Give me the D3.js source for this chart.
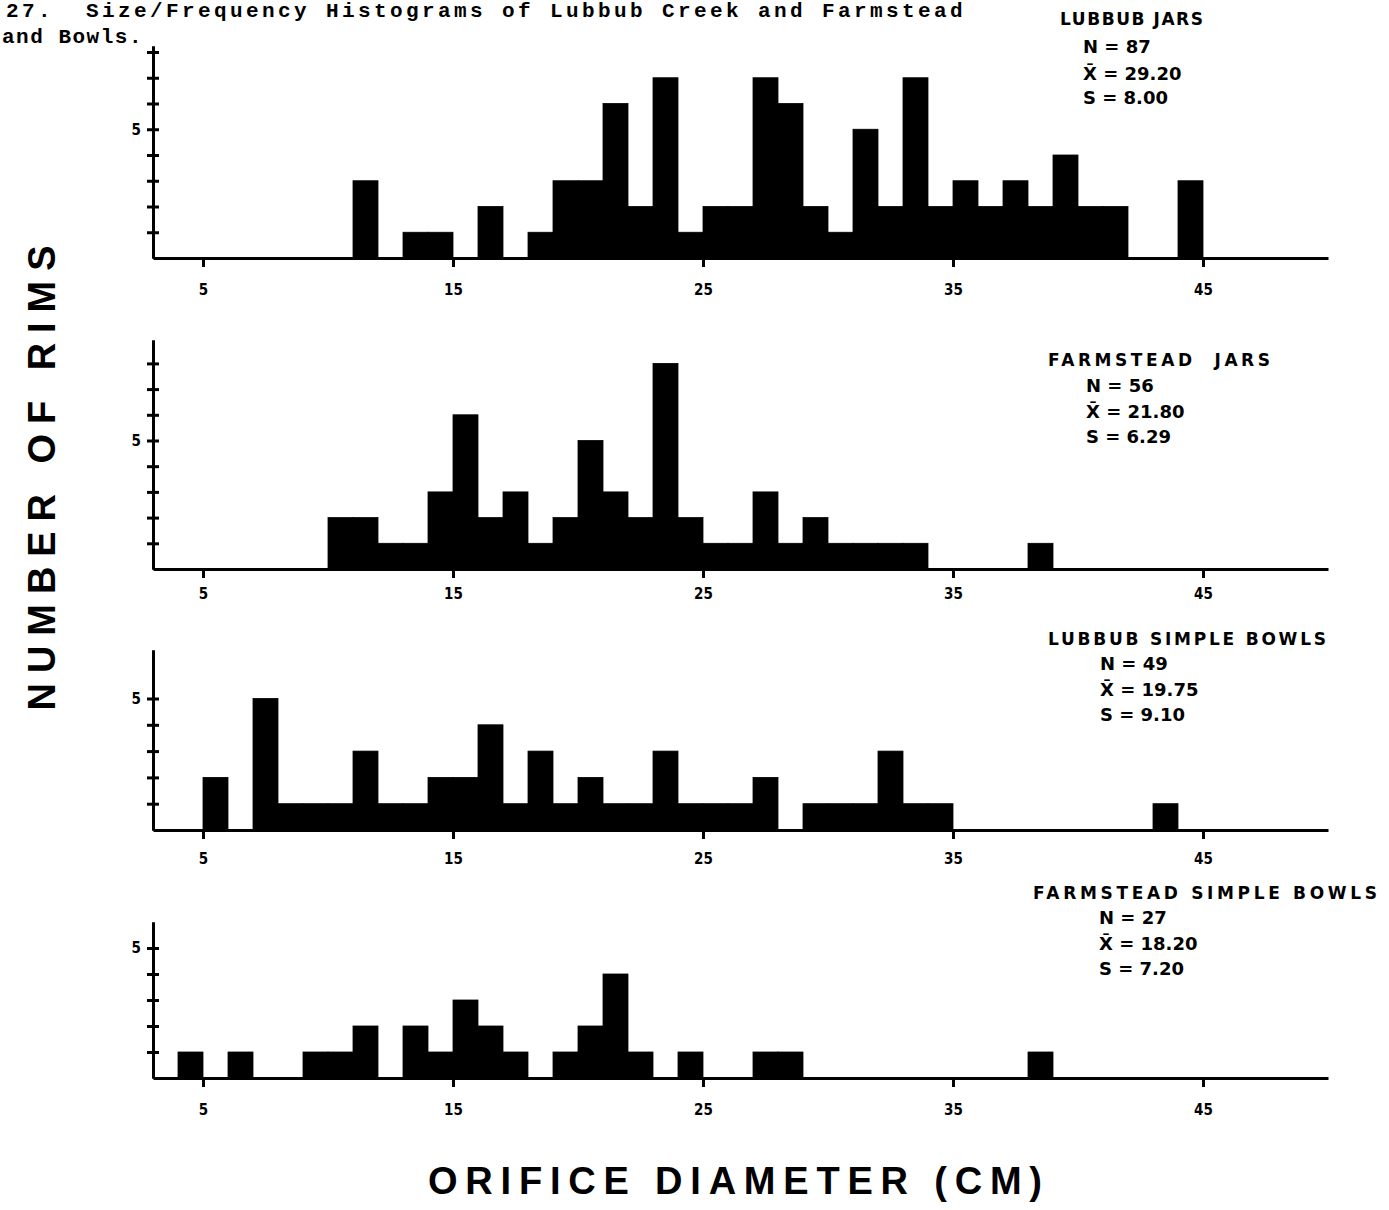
<!DOCTYPE html>
<html>
<head>
<meta charset="utf-8">
<script src="https://cdn.jsdelivr.net/npm/d3@7"></script>
<style>
    body { margin: 0; background: #fff; }
    svg { display: block; }
    .axis path, .axis line { stroke: #000; stroke-width: 3; }
    .axis text { font-family: "DejaVu Sans Condensed", "DejaVu Sans", sans-serif; font-stretch: condensed; font-weight: bold; font-size: 15px; fill: #000; }
    .stats text { font-family: "DejaVu Sans", sans-serif; font-weight: bold; font-size: 18px; fill: #000; }
    .stats .title { font-size: 17px; }
    .caption { font-family: "Liberation Mono", "DejaVu Sans Mono", monospace; font-weight: bold; font-size: 21px; letter-spacing: 3.4px; fill: #000; }
    .big-label { font-family: "Liberation Sans", Arial, sans-serif; font-weight: bold; font-size: 38px; fill: #000; }
</style>
</head>
<body>
<div id="chart"></div>
<script>

// bins are 1 cm wide: [bin start (cm), number of rims]
const lubbubJars = [[11,3],[13,1],[14,1],[16,2],[18,1],[19,3],[20,3],[21,6],[22,2],[23,7],[24,1],[25,2],[26,2],
    [27,7],[28,6],[29,2],[30,1],[31,5],[32,2],[33,7],[34,2],[35,3],[36,2],[37,3],[38,2],[39,4],[40,2],[41,2],[44,3]];
const farmsteadJars = [[10,2],[11,2],[12,1],[13,1],[14,3],[15,6],[16,2],[17,3],[18,1],[19,2],[20,5],[21,3],[22,2],
    [23,8],[24,2],[25,1],[26,1],[27,3],[28,1],[29,2],[30,1],[31,1],[32,1],[33,1],[38,1]];
const lubbubBowls = [[5,2],[7,5],[8,1],[9,1],[10,1],[11,3],[12,1],[13,1],[14,2],[15,2],[16,4],[17,1],[18,3],[19,1],
    [20,2],[21,1],[22,1],[23,3],[24,1],[25,1],[26,1],[27,2],[29,1],[30,1],[31,1],[32,3],[33,1],[34,1],[43,1]];
const farmsteadBowls = [[4,1],[6,1],[9,1],[10,1],[11,2],[13,2],[14,1],[15,3],[16,2],[17,1],[19,1],[20,2],[21,4],
    [22,1],[24,1],[27,1],[28,1],[38,1]];

const xTicks = [5, 15, 25, 35, 45];
const xDomain = [3, 50];

const lubbubJarsStats = ["LUBBUB JARS", "N = 87", "X\u0304 = 29.20", "S = 8.00"];
const farmsteadJarsStats = ["FARMSTEAD  JARS", "N = 56", "X\u0304 = 21.80", "S = 6.29"];
const lubbubBowlsStats = ["LUBBUB SIMPLE BOWLS", "N = 49", "X\u0304 = 19.75", "S = 9.10"];
const farmsteadBowlsStats = ["FARMSTEAD SIMPLE BOWLS", "N = 27", "X\u0304 = 18.20", "S = 7.20"];

const yTicksTall = [1, 2, 3, 4, 5, 6, 7, 8];
const yTicksShort = [1, 2, 3, 4, 5];


class Histogram {

    constructor(svg, bins, stats, yTicks, layout) {
        this.svg = svg;
        this.bins = bins;
        this.stats = stats;
        this.yTicks = yTicks;
        this.layout = layout;

        this.initVis()
    }

    initVis() {
        let vis = this;
        let L = vis.layout;

        vis.g = vis.svg.append("g");

        vis.xScale = d3.scaleLinear().domain(xDomain).range([153, 1328]);
        vis.yScale = d3.scaleLinear()
            .domain([0, (L.base - L.top) / L.unit])
            .range([L.base, L.top]);

        // x axis, ticks hang below the line
        vis.g.append("g")
            .attr("class", "x axis")
            .attr("transform", `translate(0,${L.base})`)
            .call(d3.axisBottom(vis.xScale)
                .tickValues(xTicks)
                .tickSizeInner(9)
                .tickSizeOuter(0)
                .tickPadding(L.labelPad));

        // y axis, "+" style ticks: one axis each side
        vis.g.append("g")
            .attr("class", "y axis")
            .attr("transform", `translate(${vis.xScale(xDomain[0])},0)`)
            .call(d3.axisLeft(vis.yScale)
                .tickValues(vis.yTicks)
                .tickSizeInner(6)
                .tickSizeOuter(0)
                .tickPadding(6)
                .tickFormat(d => d === 5 ? "5" : ""));

        vis.g.append("g")
            .attr("class", "y axis")
            .attr("transform", `translate(${vis.xScale(xDomain[0])},0)`)
            .call(d3.axisRight(vis.yScale)
                .tickValues(vis.yTicks)
                .tickSizeInner(6)
                .tickSizeOuter(0)
                .tickFormat(""));

        // stats block top right
        let st = vis.g.append("g").attr("class", "stats");
        st.append("text")
            .attr("class", "title")
            .attr("x", L.titleX)
            .attr("y", L.rows[0])
            .attr("textLength", L.titleW)
            .attr("lengthAdjust", "spacing")
            .style("white-space", "pre")
            .text(vis.stats[0]);
        vis.stats.slice(1).forEach((s, i) => {
            st.append("text")
                .attr("x", L.statX)
                .attr("y", L.rows[i + 1])
                .text(s);
        });

        vis.updateVis()
    }

    updateVis() {
        let vis = this;

        vis.g.selectAll(".bar")
            .data(vis.bins)
            .enter()
            .append("rect")
            .attr("class", "bar")
            .attr("x", d => vis.xScale(d[0]))
            .attr("width", d => vis.xScale(d[0] + 1) - vis.xScale(d[0]))
            .attr("y", d => vis.yScale(d[1]))
            .attr("height", d => vis.yScale(0) - vis.yScale(d[1]))
            .attr("fill", "#000")
            .attr("stroke", "#000")
            .attr("stroke-width", 0.8);
    }
}


let width = 1389, height = 1210;

let svg = d3.select("#chart").append("svg")
    .attr("width", width)
    .attr("height", height);

// figure caption (typewritten)
svg.append("text").attr("class", "caption")
    .attr("x", 6).attr("y", 17)
    .style("white-space", "pre")
    .text("27.  Size/Frequency Histograms of Lubbub Creek and Farmstead");
svg.append("text").attr("class", "caption")
    .attr("x", 2).attr("y", 43)
    .style("letter-spacing", "1.5px")
    .text("and Bowls.");

new Histogram(svg, lubbubJars, lubbubJarsStats, yTicksTall,
    {base: 258, top: 46, unit: 25.75, labelPad: 17, titleX: 1060, titleW: 143, statX: 1083, rows: [25, 53, 80, 104]});
new Histogram(svg, farmsteadJars, farmsteadJarsStats, yTicksTall,
    {base: 569, top: 340, unit: 25.7, labelPad: 10, titleX: 1048, titleW: 222, statX: 1086, rows: [366, 392, 418, 443]});
new Histogram(svg, lubbubBowls, lubbubBowlsStats, yTicksShort,
    {base: 830, top: 650, unit: 26.3, labelPad: 14, titleX: 1048, titleW: 278, statX: 1100, rows: [645, 670, 696, 721]});
new Histogram(svg, farmsteadBowls, farmsteadBowlsStats, yTicksShort,
    {base: 1078, top: 922, unit: 26, labelPad: 17, titleX: 1033, titleW: 344, statX: 1099, rows: [899, 924, 950, 975]});

// axis titles
svg.append("text").attr("class", "big-label")
    .attr("transform", "translate(55,478) rotate(-90)")
    .attr("text-anchor", "middle")
    .attr("textLength", 465)
    .attr("lengthAdjust", "spacing")
    .text("NUMBER OF RIMS");

svg.append("text").attr("class", "big-label")
    .attr("x", 735).attr("y", 1194)
    .attr("text-anchor", "middle")
    .attr("textLength", 614)
    .attr("lengthAdjust", "spacing")
    .text("ORIFICE DIAMETER (CM)");

</script>
</body>
</html>
